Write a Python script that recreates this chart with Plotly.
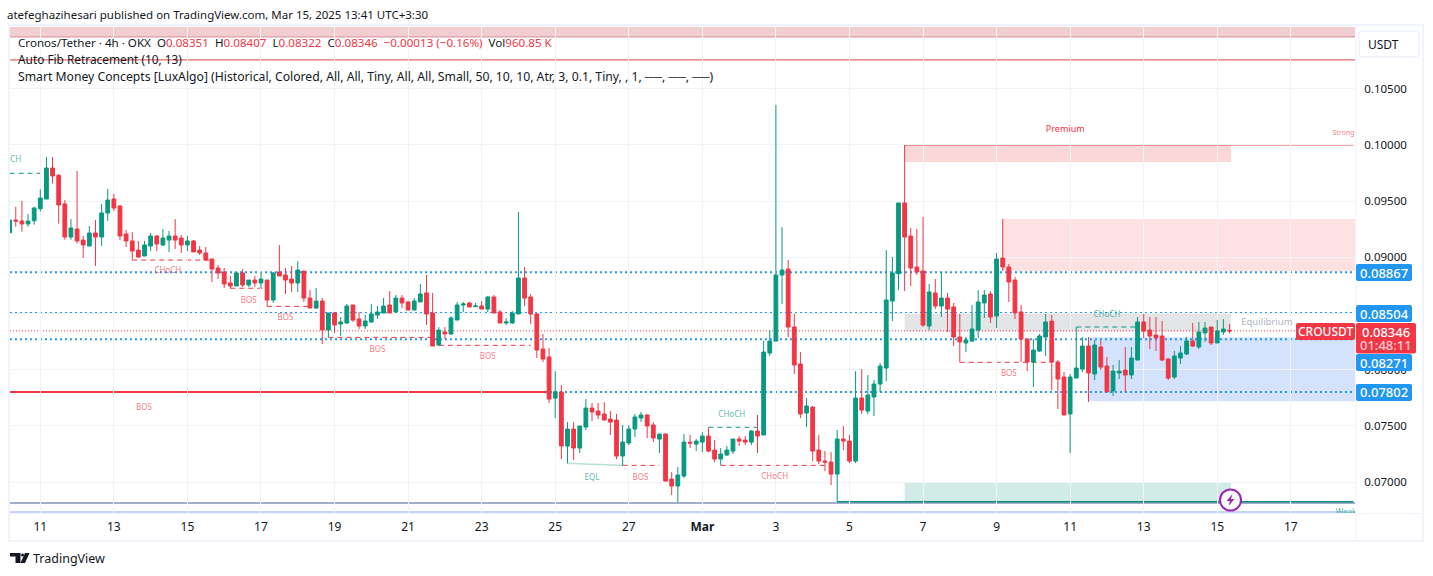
import plotly.graph_objects as go

# ---------- data (prices in units of 0.00001) ----------
open_e5 = [9220,9332,9323,9297,9326,9433,9519,9795,9730,9475,
9181,9252,9154,9101,9217,9181,9395,9519,9457,9208,
9146,9065,9012,9101,9190,9110,9154,9190,9172,9110,
9146,9065,9039,8985,8905,8870,8772,8745,8861,8754,
8798,8772,8798,8620,8870,8843,8807,8772,8878,8638,
8549,8611,8353,8505,8407,8416,8576,8451,8389,8425,
8487,8505,8576,8514,8638,8603,8531,8603,8683,8505,
8220,8336,8318,8442,8576,8594,8561,8567,8540,8647,
8514,8416,8416,8496,8816,8647,8496,8184,8113,7748,
7802,7321,7472,7303,7490,7659,7632,7606,7561,7552,
7232,7348,7472,7570,7597,7508,7383,7428,7027,6965,
7054,7356,7338,7356,7410,7285,7205,7241,7276,7383,
7374,7356,7454,7419,8148,8255,8843,8896,8380,8051,
7615,7668,7285,7187,7178,7071,7383,7365,7187,7748,
7632,7757,7873,8015,8611,8855,9484,9190,8914,8879,
8389,8683,8567,8638,8558,8291,8238,8255,8353,8594,
8674,8478,8994,8914,8798,8514,8273,8069,8166,8291,
8433,8069,7935,7606,7926,8006,8211,7962,8202,8033,
7811,7971,7997,7953,8086,8425,8353,8309,8300,8095,
7935,8104,8140,8256,8202,8327,8380,8238,8336,8351]
high_e5 = [9332,9451,9502,9386,9451,9605,9893,9893,9742,9510,
9341,9769,9190,9279,9332,9475,9608,9564,9466,9243,
9226,9146,9146,9217,9199,9252,9235,9341,9199,9190,
9154,9101,9092,8985,8932,8905,8834,8870,8896,8798,
8834,8870,8798,8870,9110,8905,8923,8967,8878,8709,
8727,8638,8505,8514,8469,8585,8576,8514,8487,8585,
8567,8638,8700,8665,8665,8611,8638,8763,8843,8683,
8380,8380,8478,8603,8603,8603,8594,8611,8656,8665,
8531,8460,8522,9404,8914,8674,8505,8318,8193,7988,
7864,7534,7534,7499,7739,7704,7704,7712,7632,7606,
7508,7508,7606,7624,7606,7534,7428,7434,7089,7134,
7428,7419,7383,7445,7490,7374,7303,7321,7383,7410,
7410,7463,7597,8255,8353,10356,9270,8976,8496,8157,
7748,7677,7419,7276,7267,7463,7499,7419,7988,8006,
7953,7908,8059,9065,9003,9484,10000,9261,9252,9359,
8763,8807,8870,8683,8594,8496,8291,8576,8709,8709,
8700,9039,9341,8941,8825,8576,8273,8273,8318,8496,
8487,8086,7979,7962,8380,8291,8291,8264,8264,8113,
8042,8086,8202,8202,8469,8496,8469,8469,8434,8104,
8167,8211,8291,8416,8425,8425,8380,8443,8451,8407]
low_e5 = [9220,9273,9229,9273,9291,9407,9519,9656,9300,9157,
9157,9122,8994,9101,8923,9101,9324,9413,9154,9092,
8976,8994,9012,9056,9056,9101,9048,9074,9039,9056,
9048,9021,8976,8781,8807,8727,8724,8745,8736,8736,
8736,8727,8561,8594,8834,8674,8692,8692,8603,8549,
8540,8229,8288,8327,8300,8407,8425,8362,8362,8416,
8451,8505,8505,8514,8549,8531,8531,8603,8398,8211,
8211,8273,8309,8442,8514,8558,8558,8540,8514,8505,
8416,8398,8407,8496,8567,8407,8104,8068,7704,7570,
7205,7167,7196,7259,7463,7543,7561,7552,7419,7205,
7149,7330,7401,7534,7392,7356,7258,7009,6885,6822,
7036,7303,7276,7267,7267,7178,7149,7232,7250,7321,
7330,7330,7258,7419,8122,8255,8585,8291,7962,7570,
7490,7187,7160,7098,6974,6822,7285,7169,7169,7606,
7606,7588,7801,7899,8433,8709,8700,8745,8843,8380,
8353,8540,8469,8336,8211,8066,8158,8247,8282,8460,
8416,8371,8879,8603,8451,8069,7988,7846,8158,8122,
7819,7650,7597,7259,7926,7980,7713,7908,7997,7802,
7766,7917,7802,7917,8086,8282,8184,8167,8077,7908,
7917,8051,8131,8202,8184,8247,8220,8238,8309,8322]
close_e5 = [9332,9323,9297,9323,9439,9528,9795,9724,9466,9181,
9261,9146,9110,9217,9181,9395,9510,9439,9190,9146,
9056,9003,9110,9190,9119,9172,9190,9154,9110,9146,
9048,9039,8976,8896,8861,8763,8745,8861,8754,8798,
8772,8807,8620,8861,8834,8798,8772,8887,8638,8549,
8611,8353,8505,8398,8425,8567,8442,8389,8433,8496,
8514,8567,8505,8638,8594,8531,8611,8674,8496,8211,
8353,8318,8460,8576,8585,8558,8567,8540,8647,8505,
8416,8425,8505,8816,8638,8496,8175,8095,7739,7804,
7321,7472,7303,7499,7659,7624,7597,7552,7534,7232,
7356,7472,7579,7597,7499,7392,7428,7009,6965,7063,
7356,7347,7365,7410,7276,7205,7250,7285,7383,7365,
7356,7454,7410,8157,8255,8843,8887,8380,8042,7606,
7677,7276,7187,7178,7071,7383,7365,7187,7748,7641,
7775,7873,8033,8620,8861,9484,9181,8905,8870,8398,
8692,8567,8638,8540,8291,8247,8264,8362,8603,8665,
8469,8985,8914,8781,8505,8273,8069,8175,8300,8425,
8069,7917,7597,7935,8015,8211,7971,8220,8024,7802,
7988,7988,7953,8104,8425,8344,8300,8282,8086,7926,
8122,8149,8256,8211,8336,8371,8238,8345,8362,8346]

tick_index = [5,17,29,41,53,65,77,89,101,113,125,137,149,161,173,185,197,209]
tick_labels = ["11","13","15","17","19","21","23","25","27","<b>Mar</b>","3","5","7","9","11","13","15","17"]
price_ticks = [0.07,0.075,0.08,0.085,0.09,0.095,0.10,0.105]
price_tick_labels = ["0.07000","0.07500","0.08000","0.08500","0.09000","0.09500","0.10000","0.10500"]

fib_levels = [0.08867,0.08504,0.08271,0.07802]
last_price = 0.08346
# (start bar, end bar, price)
red_dashes = [(20,33,0.08976),(36,42,0.08725),(42,49,0.08564),(52,69,0.08288),(70,85,0.08217),
              (100,106,0.07149),(116,133,0.07149),(155,170,0.08066)]
green_dashes = [(0,5,0.09748),(114,122,0.07488),(174,184,0.08380)]
# (start bar, end bar, low price, high price, fill)
zones = [(146,199.25,0.09849,0.10000,"rgba(242,54,69,0.20)"),
         (162,219.5,0.08879,0.09341,"rgba(242,54,69,0.15)"),
         (146,199.25,0.08340,0.08495,"rgba(120,123,134,0.20)"),
         (176,219.5,0.07719,0.08288,"rgba(33,100,243,0.19)"),
         (146,199.25,0.06826,0.07001,"rgba(8,153,129,0.19)")]
red_labels = [(25.8,0.08881,"CHoCH"),(39,0.08614,"BOS"),(45,0.08463,"BOS"),(60,0.08178,"BOS"),(78,0.08110,"BOS"),
              (21.9,0.07659,"BOS"),(102.9,0.07039,"BOS"),(124.8,0.07045,"CHoCH"),(163,0.07962,"BOS")]
premium_label = (172.2,0.10133,"Premium")
strong_label = (217.6,0.10107,"Strong")
green_labels = [(-0.3,0.09866,"CHoCH"),(95,0.07039,"EQL"),(117.8,0.07600,"CHoCH"),(179,0.08487,"CHoCH"),(218,0.06728,"Weak")]

RED, GREEN, BLUE = "#f23645", "#089981", "#2196f3"
FONT = "Noto Sans"
DARK = "#131722"
GRID = "#f2f3f6"
L, R, T, B = 10, 78, 27, 63
W, H = 1433, 576
pw, ph = W - L - R, H - T - B
def px(x): return (x - L) / pw
def py(y): return (H - B - y) / ph

bars = list(range(len(open_e5)))
fig = go.Figure(go.Candlestick(
    x=bars,
    open=[v / 1e5 for v in open_e5], high=[v / 1e5 for v in high_e5],
    low=[v / 1e5 for v in low_e5], close=[v / 1e5 for v in close_e5],
    increasing=dict(line=dict(color=GREEN, width=1), fillcolor=GREEN),
    decreasing=dict(line=dict(color=RED, width=1), fillcolor=RED),
    whiskerwidth=0, hoverinfo="skip", showlegend=False))

shapes = []
def hline(x0, x1, y, color, width=1, dash="solid"):
    shapes.append(dict(type="line", xref="x", yref="y", x0=x0, x1=x1, y0=y, y1=y, layer="below",
                       line=dict(color=color, width=width, dash=dash)))

for x0, x1, y0, y1, c in zones:
    shapes.append(dict(type="rect", xref="x", yref="y", x0=x0, x1=x1, y0=y0, y1=y1, layer="below",
                       fillcolor=c, line=dict(width=0)))
# top band
shapes.append(dict(type="rect", xref="paper", yref="y", x0=0, x1=1, y0=0.10961, y1=0.1105, layer="below",
                   fillcolor="rgba(205,60,75,0.25)", line=dict(width=0)))
hline(0.05, 219.47, 0.10961, "rgba(190,90,100,0.6)")
hline(0.05, 219.47, 0.10757, "#e04343")
hline(146, 219.2, 0.10000, "#e04343")
hline(0.05, 219.47, last_price, RED, 1, "1px,2px")
for lv in fib_levels:
    hline(0.05, 219.47, lv, BLUE, 2, "2px,3px")
hline(0.05, 88, 0.07802, RED, 2)
for x0, x1, y in red_dashes:
    hline(x0, x1, y, RED, 1, "5px,4px")
for x0, x1, y in green_dashes:
    hline(x0, x1, y, GREEN, 1, "5px,4px")
shapes.append(dict(type="line", xref="x", yref="y", x0=91, x1=100, y0=0.07167, y1=0.07149, layer="below",
                   line=dict(color="rgba(8,153,129,0.6)", width=1.5, dash="1px,1px")))
hline(0.05, 219.47, 0.06814, "#8592bf", 1.5)
hline(135, 219.2, 0.06826, "#0b8a75", 1.5)
hline(0.05, 219.47, 0.06734, "#b4c4f4", 1.5)

# chart frame
shapes.append(dict(type="rect", xref="paper", yref="paper", x0=px(9), x1=px(1423), y0=py(541), y1=py(25),
                   line=dict(color="#f0f3fa", width=2), layer="below"))
shapes.append(dict(type="line", xref="paper", yref="paper", x0=px(1356), x1=px(1356), y0=py(541), y1=py(25),
                   line=dict(color="#f0f3fa", width=1), layer="below"))
shapes.append(dict(type="line", xref="paper", yref="paper", x0=px(9), x1=px(1423), y0=py(513.5), y1=py(513.5),
                   line=dict(color="#f0f3fa", width=1), layer="below"))

def rounded_px(x0, y0, x1, y1, fill, line=None, lw=0, rad=2):
    P = lambda a, b: f"{px(a):.5f},{py(b):.5f}"
    d = (f"M{P(x0+rad,y0)} L{P(x1-rad,y0)} Q{P(x1,y0)} {P(x1,y0+rad)} L{P(x1,y1-rad)} Q{P(x1,y1)} {P(x1-rad,y1)} "
         f"L{P(x0+rad,y1)} Q{P(x0,y1)} {P(x0,y1-rad)} L{P(x0,y0+rad)} Q{P(x0,y0)} {P(x0+rad,y0)} Z")
    shapes.append(dict(type="path", xref="paper", yref="paper", path=d, fillcolor=fill,
                       line=dict(color=line or fill, width=lw), layer="above"))

def path_px(points, fill):
    d = "M" + " L".join(f"{px(a):.5f},{py(b):.5f}" for a, b in points) + " Z"
    shapes.append(dict(type="path", xref="paper", yref="paper", path=d, fillcolor=fill,
                       line=dict(width=0), layer="above"))

annotations = []
def text(x, y, s, size=12, color=DARK, anchor="left", family=FONT, weight=None):
    annotations.append(dict(xref="paper", yref="paper", x=px(x), y=py(y), text=s, showarrow=False,
                            xanchor=anchor, yanchor="middle", align=anchor, borderpad=0, borderwidth=0,
                            font=dict(family=family, size=size, color=color, weight=weight)))

# price labels on the axis
for yc, s in [(272.5, "0.08867"), (313.5, "0.08504"), (362.5, "0.08271"), (392.5, "0.07802")]:
    rounded_px(1356, yc - 8.5, 1412, yc + 8.5, BLUE)
    text(1384, yc, s, 13, "white", "center", weight=500)
rounded_px(1356, 323, 1416, 353.5, RED)
text(1386, 331.5, "0.08346", 13, "white", "center", weight=500)
text(1386, 345, "01:48:11", 13, "rgba(255,255,255,0.75)", "center", weight=500)
rounded_px(1296, 323, 1355, 340, RED)
text(1325.5, 331.5, "CROUSDT", 12, "white", "center", weight=500)

# currency button
rounded_px(1359, 31, 1419, 57, "white", "#f0f3fa", 1.5, 4)
text(1368, 44, "USDT", 12)

# lightning badge
shapes.append(dict(type="circle", xref="paper", yref="paper", x0=px(1220), x1=px(1241), y0=py(510.5), y1=py(489.5),
                   fillcolor="white", line=dict(color="#9c27b0", width=2), layer="above"))
path_px([(1232.5, 494), (1226.5, 501), (1230, 501), (1228.5, 506), (1234.5, 499), (1231, 499)], "#9c27b0")

# TradingView logo
path_px([(10, 553), (20.5, 553), (20.5, 563), (15.5, 563), (15.5, 556.5), (10, 556.5)], DARK)
shapes.append(dict(type="circle", xref="paper", yref="paper", x0=px(21), x1=px(24), y0=py(556.5), y1=py(553.5),
                   fillcolor=DARK, line=dict(width=0), layer="above"))
path_px([(25, 553), (29.5, 553), (25, 563), (20.5, 563)], DARK)

# header text
text(7, 15, "atefeghazihesari published on TradingView.com, Mar 15, 2025 13:41 UTC+3:30", 11.5)
r = lambda s: f'<span style="color:{RED}">{s}</span>'
text(18, 42, f"Cronos/Tether · 4h · OKX  O{r('0.08351')}  H{r('0.08407')}  L{r('0.08322')}  C{r('0.08346')}  {r('−0.00013 (−0.16%)')}  Vol{r('960.85 K')}", 11.6)
text(18, 59, "Auto Fib Retracement (10, 13)", 11.85)
text(18, 76, "Smart Money Concepts [LuxAlgo] (Historical, Colored, All, All, Tiny, All, All, Small, 50, 10, 10, Atr, 3, 0.1, Tiny, , 1, ──, ──, ──)", 12.2)
text(32.5, 558, "TradingView", 12.5, DARK)

for group, color in ((red_labels, "rgba(242,54,69,0.7)"), (green_labels, "rgba(8,153,129,0.7)")):
    fig.add_trace(go.Scatter(x=[g[0] for g in group], y=[g[1] for g in group], text=[g[2] for g in group],
                             mode="text", textposition="middle center", cliponaxis=True,
                             textfont=dict(family=FONT, size=8, color=color),
                             hoverinfo="skip", showlegend=False))
fig.add_trace(go.Scatter(x=[premium_label[0]], y=[premium_label[1]], text=[premium_label[2]], mode="text", cliponaxis=True,
                         textfont=dict(family=FONT, size=9, color=RED), hoverinfo="skip", showlegend=False))
fig.add_trace(go.Scatter(x=[strong_label[0]], y=[strong_label[1]], text=[strong_label[2]], mode="text", cliponaxis=True,
                         textfont=dict(family=FONT, size=7, color="rgba(242,54,69,0.7)"), hoverinfo="skip", showlegend=False))
fig.add_trace(go.Scatter(x=[205.1], y=[0.08416], text=["Equilibrium"], mode="text", cliponaxis=True,
                         textfont=dict(family=FONT, size=9.5, color="#b2b5be"), hoverinfo="skip", showlegend=False))

fig.update_layout(
    width=W, height=H, autosize=False,
    margin=dict(l=L, r=R, t=T, b=B, pad=0),
    paper_bgcolor="white", plot_bgcolor="white",
    font=dict(family=FONT, size=12, color=DARK),
    shapes=shapes, annotations=annotations, showlegend=False, boxgap=0.12,
    xaxis=dict(range=[0.057, 219.47], rangeslider=dict(visible=False), tickmode="array",
               tickvals=tick_index, ticktext=tick_labels, showgrid=True, gridcolor=GRID, gridwidth=1,
               zeroline=False, showline=False, ticks="outside", ticklen=3, tickcolor="rgba(0,0,0,0)",
               tickfont=dict(family=FONT, size=12, color=DARK)),
    yaxis=dict(range=[0.06725, 0.1105], side="right", tickmode="array", tickvals=price_ticks,
               ticktext=price_tick_labels, showgrid=True, gridcolor=GRID, gridwidth=1,
               zeroline=False, showline=False, ticks="outside", ticklen=6, tickcolor="rgba(0,0,0,0)",
               tickfont=dict(family=FONT, size=11.5, color=DARK)),
)
fig.write_html("out.html", config=dict(displayModeBar=False),
               post_script="document.body.style.margin='0';document.body.style.overflow='hidden';")
